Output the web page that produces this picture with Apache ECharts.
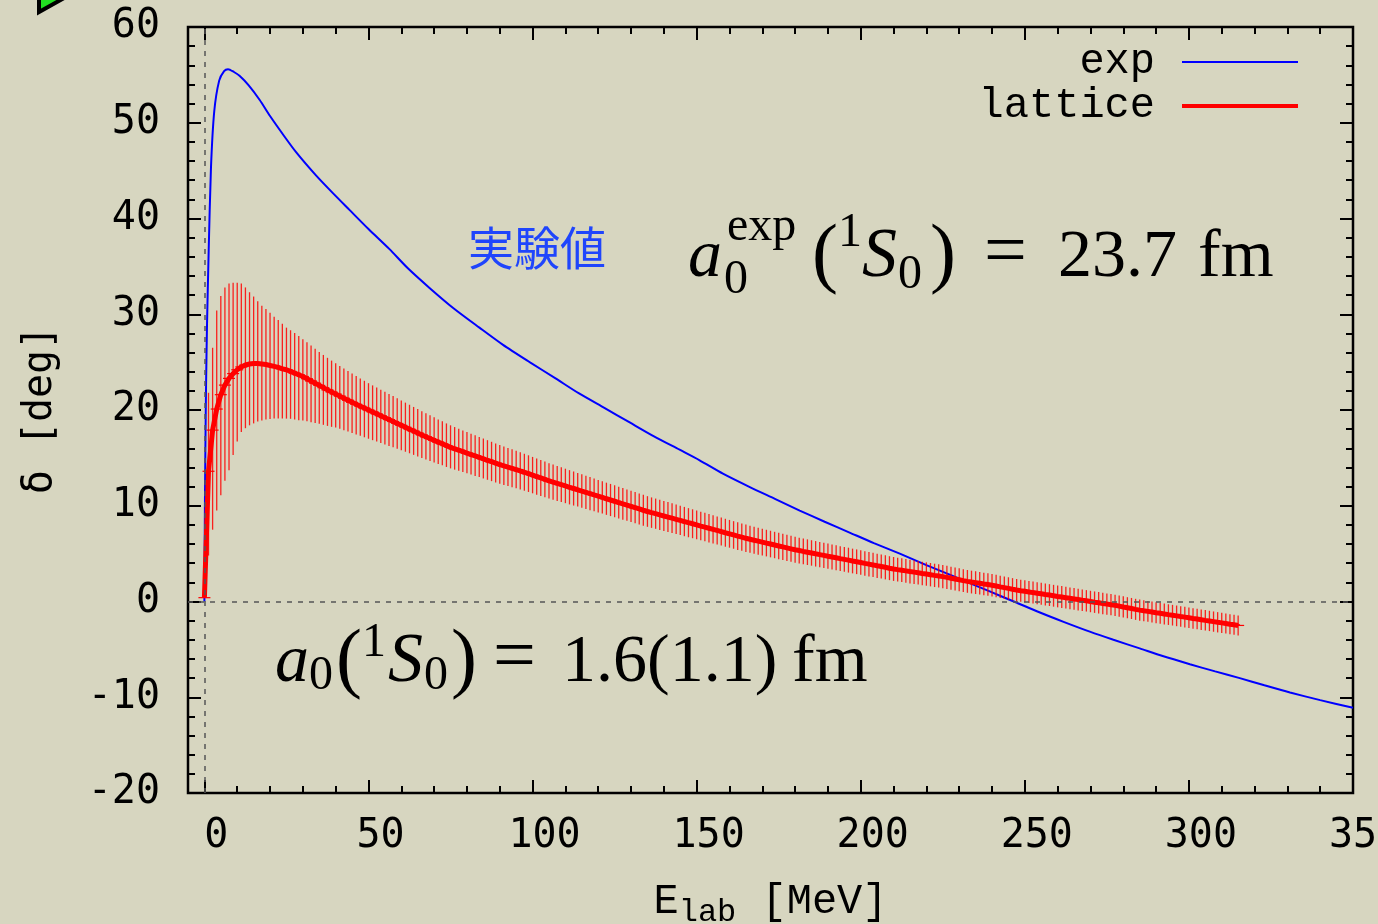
<!DOCTYPE html>
<html>
<head>
<meta charset="utf-8">
<title>1S0 phase shift</title>
<script src="https://cdn.jsdelivr.net/npm/echarts@6/dist/echarts.min.js"></script>
<style>
  html, body { margin: 0; padding: 0; background: #d7d6c0; }
  #chart { width: 1378px; height: 924px; }
</style>
</head>
<body>
<div id="chart"></div>
<script>
// 実験値 (exp) phase shift curve
const expE = [0, 0.15, 0.3, 0.5, 0.8, 1.3, 2, 3, 4.5, 6, 7.2, 9, 10.7, 13.5, 16.8, 20, 23.9, 28, 34, 39,
  44.2, 50, 56.4, 62, 68.6, 76, 83.8, 91, 99.1, 107, 114.3, 122, 129.6, 137, 144.8, 150.9, 158, 166.2, 174, 181.4,
  189, 196.6, 204, 211.9, 220, 227.1, 233, 239.3, 247, 254.6, 262, 269.8, 277, 285, 292, 300.3, 308, 315.5, 323, 330.8,
  340, 350]
const expDelta = [0, 10, 16, 22.5, 29, 36.6, 45.3, 51.2, 54.4, 55.4, 55.6, 55.3, 54.9, 53.9, 52.4, 50.7, 48.8, 46.9, 44.5, 42.7,
  40.9, 38.9, 36.8, 34.8, 32.75, 30.6, 28.6, 26.8, 25.0, 23.3, 21.7, 20.2, 18.7, 17.25, 15.85, 14.75, 13.35, 11.95, 10.7, 9.5,
  8.33, 7.2, 6.1, 5.0, 3.8, 2.8, 1.95, 1.05, -0.05, -1.15, -2.15, -3.15, -4.0, -4.9, -5.7, -6.55, -7.3, -8.0, -8.75, -9.5,
  -10.3, -11.1]

// lattice: energies, central values, upper / lower errors
const latticeE = [
  0, 1.25, 2.5, 3.75, 5, 6.25, 7.5, 8.75, 10, 11.25, 12.5, 13.75, 15, 16.25, 17.5, 18.75,
  20, 21.25, 22.5, 23.75, 25, 26.25, 27.5, 28.75, 30, 31.25, 32.5, 33.75, 35, 36.25, 37.5, 38.75,
  40, 41.25, 42.5, 43.75, 45, 46.25, 47.5, 48.75, 50, 51.25, 52.5, 53.75, 55, 56.25, 57.5, 58.75,
  60, 61.25, 62.5, 63.75, 65, 66.25, 67.5, 68.75, 70, 71.25, 72.5, 73.75, 75, 76.25, 77.5, 78.75,
  80, 81.25, 82.5, 83.75, 85, 86.25, 87.5, 88.75, 90, 91.25, 92.5, 93.75, 95, 96.25, 97.5, 98.75,
  100, 101.25, 102.5, 103.75, 105, 106.25, 107.5, 108.75, 110, 111.25, 112.5, 113.75, 115, 116.25, 117.5, 118.75,
  120, 121.25, 122.5, 123.75, 125, 126.25, 127.5, 128.75, 130, 131.25, 132.5, 133.75, 135, 136.25, 137.5, 138.75,
  140, 141.25, 142.5, 143.75, 145, 146.25, 147.5, 148.75, 150, 151.25, 152.5, 153.75, 155, 156.25, 157.5, 158.75,
  160, 161.25, 162.5, 163.75, 165, 166.25, 167.5, 168.75, 170, 171.25, 172.5, 173.75, 175, 176.25, 177.5, 178.75,
  180, 181.25, 182.5, 183.75, 185, 186.25, 187.5, 188.75, 190, 191.25, 192.5, 193.75, 195, 196.25, 197.5, 198.75,
  200, 201.25, 202.5, 203.75, 205, 206.25, 207.5, 208.75, 210, 211.25, 212.5, 213.75, 215, 216.25, 217.5, 218.75,
  220, 221.25, 222.5, 223.75, 225, 226.25, 227.5, 228.75, 230, 231.25, 232.5, 233.75, 235, 236.25, 237.5, 238.75,
  240, 241.25, 242.5, 243.75, 245, 246.25, 247.5, 248.75, 250, 251.25, 252.5, 253.75, 255, 256.25, 257.5, 258.75,
  260, 261.25, 262.5, 263.75, 265, 266.25, 267.5, 268.75, 270, 271.25, 272.5, 273.75, 275, 276.25, 277.5, 278.75,
  280, 281.25, 282.5, 283.75, 285, 286.25, 287.5, 288.75, 290, 291.25, 292.5, 293.75, 295, 296.25, 297.5, 298.75,
  300, 301.25, 302.5, 303.75, 305, 306.25, 307.5, 308.75, 310, 311.25, 312.5, 313.75, 315]
const latticeMid = [
  0.4, 13.6, 17.9, 20.1, 21.6, 22.6, 23.3, 23.8, 24.2, 24.5, 24.7, 24.8, 24.85, 24.85, 24.8, 24.75,
  24.65, 24.55, 24.45, 24.3, 24.2, 24.03, 23.85, 23.68, 23.5, 23.27, 23.03, 22.8, 22.57, 22.33, 22.1, 21.88,
  21.67, 21.45, 21.23, 21.02, 20.8, 20.6, 20.4, 20.2, 20.0, 19.8, 19.6, 19.4, 19.2, 19.0, 18.8, 18.6,
  18.4, 18.2, 18.0, 17.8, 17.6, 17.4, 17.2, 17.02, 16.83, 16.65, 16.47, 16.28, 16.1, 15.95, 15.8, 15.65,
  15.5, 15.35, 15.2, 15.05, 14.9, 14.75, 14.6, 14.45, 14.3, 14.17, 14.03, 13.9, 13.77, 13.63, 13.5, 13.35,
  13.2, 13.05, 12.9, 12.75, 12.6, 12.47, 12.33, 12.2, 12.07, 11.93, 11.8, 11.67, 11.53, 11.4, 11.27, 11.13,
  11.0, 10.87, 10.73, 10.6, 10.47, 10.33, 10.2, 10.07, 9.93, 9.8, 9.67, 9.53, 9.4, 9.28, 9.17, 9.05,
  8.93, 8.82, 8.7, 8.58, 8.47, 8.35, 8.23, 8.12, 8.0, 7.88, 7.77, 7.65, 7.53, 7.42, 7.3, 7.18,
  7.07, 6.95, 6.83, 6.72, 6.6, 6.5, 6.4, 6.3, 6.2, 6.1, 6.0, 5.9, 5.8, 5.7, 5.6, 5.5,
  5.4, 5.32, 5.23, 5.15, 5.07, 4.98, 4.9, 4.82, 4.73, 4.65, 4.57, 4.48, 4.4, 4.32, 4.23, 4.15,
  4.07, 3.98, 3.9, 3.82, 3.73, 3.65, 3.57, 3.48, 3.4, 3.33, 3.27, 3.2, 3.13, 3.07, 3.0, 2.93,
  2.87, 2.8, 2.73, 2.67, 2.6, 2.52, 2.43, 2.35, 2.27, 2.18, 2.1, 2.03, 1.97, 1.9, 1.83, 1.77,
  1.7, 1.62, 1.53, 1.45, 1.37, 1.28, 1.2, 1.13, 1.07, 1.0, 0.93, 0.87, 0.8, 0.73, 0.67, 0.6,
  0.53, 0.47, 0.4, 0.33, 0.27, 0.2, 0.13, 0.07, 0.0, -0.07, -0.13, -0.2, -0.27, -0.33, -0.4, -0.48,
  -0.57, -0.65, -0.73, -0.82, -0.9, -0.97, -1.03, -1.1, -1.17, -1.23, -1.3, -1.37, -1.43, -1.5, -1.57, -1.63,
  -1.7, -1.77, -1.83, -1.9, -1.97, -2.03, -2.1, -2.17, -2.23, -2.3, -2.37, -2.43, -2.5]
const latticeErrUp = [
  0, 8.2, 8.6, 10.3, 10.3, 10.2, 9.9, 9.5, 9.1, 8.7, 8.1, 7.5, 7.0, 6.5, 6.1, 5.8,
  5.5, 5.2, 4.95, 4.7, 4.4, 4.3, 4.2, 4.05, 3.9, 3.8, 3.7, 3.6, 3.5, 3.42, 3.35, 3.28,
  3.2, 3.15, 3.1, 3.05, 3.0, 2.95, 2.9, 2.85, 2.8, 2.77, 2.75, 2.72, 2.7, 2.67, 2.65, 2.62,
  2.6, 2.57, 2.55, 2.52, 2.5, 2.47, 2.45, 2.42, 2.4, 2.37, 2.35, 2.32, 2.3, 2.27, 2.25, 2.22,
  2.2, 2.18, 2.16, 2.14, 2.12, 2.1, 2.08, 2.06, 2.05, 2.03, 2.01, 1.99, 1.97, 1.95, 1.93, 1.92,
  1.9, 1.89, 1.88, 1.86, 1.85, 1.84, 1.83, 1.81, 1.8, 1.79, 1.78, 1.76, 1.75, 1.74, 1.73, 1.71,
  1.7, 1.69, 1.68, 1.68, 1.67, 1.66, 1.65, 1.64, 1.63, 1.63, 1.62, 1.61, 1.6, 1.59, 1.58, 1.58,
  1.57, 1.56, 1.55, 1.54, 1.53, 1.53, 1.52, 1.51, 1.5, 1.49, 1.49, 1.48, 1.48, 1.47, 1.46, 1.46,
  1.45, 1.44, 1.44, 1.43, 1.43, 1.42, 1.41, 1.41, 1.4, 1.39, 1.39, 1.38, 1.38, 1.37, 1.36, 1.36,
  1.35, 1.35, 1.34, 1.34, 1.33, 1.33, 1.32, 1.32, 1.32, 1.31, 1.31, 1.3, 1.3, 1.3, 1.29, 1.29,
  1.28, 1.28, 1.28, 1.27, 1.27, 1.26, 1.26, 1.25, 1.25, 1.25, 1.24, 1.24, 1.24, 1.23, 1.23, 1.23,
  1.22, 1.22, 1.22, 1.21, 1.21, 1.21, 1.2, 1.2, 1.2, 1.2, 1.19, 1.19, 1.19, 1.18, 1.18, 1.18,
  1.17, 1.17, 1.17, 1.16, 1.16, 1.16, 1.15, 1.15, 1.15, 1.15, 1.15, 1.15, 1.15, 1.14, 1.14, 1.14,
  1.14, 1.14, 1.13, 1.13, 1.13, 1.13, 1.13, 1.12, 1.12, 1.12, 1.12, 1.12, 1.11, 1.11, 1.11, 1.11,
  1.11, 1.1, 1.1, 1.1, 1.1, 1.1, 1.09, 1.09, 1.09, 1.09, 1.09, 1.08, 1.08, 1.08, 1.08, 1.08,
  1.07, 1.07, 1.07, 1.07, 1.07, 1.06, 1.06, 1.06, 1.06, 1.05, 1.05, 1.05, 1.05]
const latticeErrDown = [
  0, 8.8, 10.4, 10.6, 10.5, 10.0, 9.6, 8.5, 7.5, 6.8, 6.6, 6.4, 6.25, 6.05, 5.9, 5.75,
  5.6, 5.45, 5.35, 5.2, 5.1, 4.95, 4.85, 4.75, 4.6, 4.45, 4.3, 4.15, 4.0, 3.88, 3.76, 3.64,
  3.5, 3.42, 3.35, 3.27, 3.2, 3.15, 3.1, 3.05, 3.0, 2.95, 2.9, 2.85, 2.8, 2.75, 2.7, 2.65,
  2.6, 2.56, 2.52, 2.49, 2.45, 2.41, 2.38, 2.34, 2.3, 2.28, 2.25, 2.23, 2.2, 2.18, 2.15, 2.13,
  2.1, 2.09, 2.08, 2.06, 2.05, 2.04, 2.03, 2.01, 2.0, 1.99, 1.98, 1.96, 1.95, 1.94, 1.93, 1.91,
  1.9, 1.89, 1.88, 1.86, 1.85, 1.84, 1.83, 1.81, 1.8, 1.79, 1.78, 1.76, 1.75, 1.74, 1.73, 1.71,
  1.7, 1.69, 1.68, 1.68, 1.67, 1.66, 1.65, 1.64, 1.63, 1.63, 1.62, 1.61, 1.6, 1.59, 1.58, 1.58,
  1.57, 1.56, 1.55, 1.54, 1.53, 1.53, 1.52, 1.51, 1.5, 1.49, 1.49, 1.48, 1.48, 1.47, 1.46, 1.46,
  1.45, 1.44, 1.44, 1.43, 1.43, 1.42, 1.41, 1.41, 1.4, 1.39, 1.39, 1.38, 1.38, 1.37, 1.36, 1.36,
  1.35, 1.35, 1.34, 1.34, 1.33, 1.33, 1.32, 1.32, 1.32, 1.31, 1.31, 1.3, 1.3, 1.3, 1.29, 1.29,
  1.28, 1.28, 1.28, 1.27, 1.27, 1.26, 1.26, 1.25, 1.25, 1.25, 1.24, 1.24, 1.24, 1.23, 1.23, 1.23,
  1.22, 1.22, 1.22, 1.21, 1.21, 1.21, 1.2, 1.2, 1.2, 1.2, 1.19, 1.19, 1.19, 1.18, 1.18, 1.18,
  1.17, 1.17, 1.17, 1.16, 1.16, 1.16, 1.15, 1.15, 1.15, 1.15, 1.15, 1.15, 1.15, 1.14, 1.14, 1.14,
  1.14, 1.14, 1.13, 1.13, 1.13, 1.13, 1.13, 1.12, 1.12, 1.12, 1.12, 1.12, 1.11, 1.11, 1.11, 1.11,
  1.11, 1.1, 1.1, 1.1, 1.1, 1.1, 1.09, 1.09, 1.09, 1.09, 1.09, 1.08, 1.08, 1.08, 1.08, 1.08,
  1.07, 1.07, 1.07, 1.07, 1.07, 1.06, 1.06, 1.06, 1.06, 1.05, 1.05, 1.05, 1.05]

// axis ticks
const xMajorTicks = [0, 50, 100, 150, 200, 250, 300, 350]
const xMinorTicks = [0, 10, 20, 30, 40, 50, 60, 70, 80, 90, 100, 110, 120, 130, 140, 150, 160, 170,
  180, 190, 200, 210, 220, 230, 240, 250, 260, 270, 280, 290, 300, 310, 320, 330, 340, 350]

const tickFont = 'DejaVu Sans Mono'
const monoFont = 'Liberation Mono'
const mathFont = 'Liberation Serif'

const chart = echarts.init(document.getElementById('chart'))

// 数式の注記 [text, x, baseline, size, italic]
function mathPieces (pieces) {
  return pieces.map(([text, x, base, size, italic]) => ({
    type: 'text',
    x: x,
    y: base - size * 0.34,
    silent: true,
    style: {
      text: text,
      fontFamily: mathFont,
      fontSize: size,
      fontStyle: italic ? 'italic' : 'normal',
      fill: '#000',
      verticalAlign: 'middle'
    }
  }))
}

function xAxisOf (position, ticks, len, labels) {
  const axis = {
    type: 'value',
    position: position,
    min: -5,
    max: 350,
    axisLine: { show: false, onZero: false },
    splitLine: { show: false },
    axisTick: {
      show: true,
      inside: true,
      length: len,
      customValues: ticks,
      lineStyle: { color: '#000', width: 2 }
    },
    axisLabel: { show: false }
  }
  if (labels) {
    axis.axisLabel = {
      show: true,
      customValues: ticks,
      fontFamily: tickFont,
      fontSize: 40,
      color: '#000',
      margin: 24,
      padding: [0, 0, 0, 24]
    }
    axis.name = '{a|E}{b|lab}{a| [MeV]}'
    axis.nameLocation = 'middle'
    axis.nameGap = 88
    axis.nameTextStyle = {
      rich: {
        a: { fontFamily: monoFont, fontSize: 42, color: '#000', verticalAlign: 'top' },
        b: { fontFamily: monoFont, fontSize: 32, color: '#000', verticalAlign: 'top', padding: [16, 0, 0, 0] }
      }
    }
  }
  return axis
}

function yAxisOf (position, labels) {
  const axis = {
    type: 'value',
    position: position,
    min: -20,
    max: 60,
    interval: 10,
    axisLine: { show: false, onZero: false },
    splitLine: { show: false },
    axisTick: { show: true, inside: true, length: 13, lineStyle: { color: '#000', width: 2 } },
    minorTick: { show: true, splitNumber: 5, length: 7, lineStyle: { color: '#000', width: 2 } },
    axisLabel: { show: labels, fontFamily: tickFont, fontSize: 40, color: '#000', margin: 28 }
  }
  if (labels) {
    axis.name = 'δ [deg]'
    axis.nameLocation = 'middle'
    axis.nameGap = 127
    axis.nameTextStyle = { fontFamily: tickFont, fontSize: 40, color: '#000' }
  }
  return axis
}

const option = {
  backgroundColor: '#d7d6c0',
  animation: false,
  grid: {
    left: 188,
    right: 25,
    top: 27,
    bottom: 131,
    containLabel: false,
    outerBoundsMode: 'none',
    show: true,
    borderColor: '#000',
    borderWidth: 2.5,
    backgroundColor: 'transparent'
  },
  legend: {
    data: [
      { name: 'exp', lineStyle: { width: 2 } },
      { name: 'lattice', lineStyle: { width: 4 } }
    ],
    orient: 'vertical',
    right: 73,
    top: 35,
    align: 'right',
    itemWidth: 116,
    itemHeight: 14,
    itemGap: 0,
    selectedMode: false,
    itemStyle: { color: 'rgba(0,0,0,0)', opacity: 0, borderWidth: 0 },
    textStyle: {
      fontFamily: monoFont,
      fontSize: 42,
      color: '#000',
      lineHeight: 44,
      padding: [0, 22, 0, 0]
    }
  },
  xAxis: [
    xAxisOf('bottom', xMajorTicks, 13, true),
    xAxisOf('bottom', xMinorTicks, 7, false),
    xAxisOf('top', xMajorTicks, 13, false),
    xAxisOf('top', xMinorTicks, 7, false)
  ],
  yAxis: [
    yAxisOf('left', true),
    yAxisOf('right', false)
  ],
  series: [
    {
      name: 'exp',
      type: 'line',
      data: expE.map((e, i) => [e, expDelta[i]]),
      symbol: 'none',
      smooth: 0.25,
      lineStyle: { color: '#0000ff', width: 2 },
      itemStyle: { color: '#0000ff' },
      z: 2,
      markLine: {
        silent: true,
        symbol: ['none', 'none'],
        label: { show: false },
        lineStyle: { color: '#555', width: 1.5, type: [5, 6] },
        data: [{ xAxis: 0 }, { yAxis: 0 }]
      }
    },
    {
      name: 'lattice error',
      type: 'custom',
      data: latticeE.map((e, i) => [e, latticeMid[i] - latticeErrDown[i], latticeMid[i] + latticeErrUp[i], latticeMid[i]]),
      encode: { x: 0, y: [1, 2] },
      z: 3,
      renderItem: function (params, api) {
        const x = api.value(0)
        const top = api.coord([x, api.value(2)])
        const bottom = api.coord([x, api.value(1)])
        const mid = api.coord([x, api.value(3)])
        return {
          type: 'group',
          children: [
            {
              type: 'line',
              shape: { x1: top[0], y1: top[1], x2: bottom[0], y2: bottom[1] },
              style: { stroke: '#ff0000', lineWidth: 1.3, opacity: 0.85 }
            },
            {
              type: 'line',
              shape: { x1: mid[0] - 6, y1: mid[1], x2: mid[0] + 6, y2: mid[1] },
              style: { stroke: '#ff0000', lineWidth: 1.2 }
            }
          ]
        }
      }
    },
    {
      name: 'lattice',
      type: 'line',
      data: latticeE.map((e, i) => [e, latticeMid[i]]),
      symbol: 'none',
      lineStyle: { color: '#ff0000', width: 5 },
      itemStyle: { color: '#ff0000' },
      z: 4
    }
  ],
  graphic: [
    {
      type: 'polygon',
      silent: true,
      shape: { points: [[39, -60], [39, 12], [100, -22]] },
      style: { fill: '#22e022', stroke: '#000', lineWidth: 4 }
    },
    {
      type: 'text',
      x: 468,
      y: 248,
      silent: true,
      style: {
        text: '実験値',
        fontFamily: 'Noto Sans CJK JP',
        fontSize: 46,
        fill: '#1f45fc',
        verticalAlign: 'middle'
      }
    }
  ].concat(mathPieces([
    ['a', 688, 281, 68, true],
    ['0', 724, 297, 48, false],
    ['exp', 727, 244, 48, false],
    ['(', 812, 284, 78, false],
    ['1', 838, 250, 48, false],
    ['S', 862, 281, 70, true],
    ['0', 898, 292, 48, false],
    [')', 930, 284, 78, false],
    ['=', 984, 281, 76, false],
    ['23.7', 1058, 281, 68, false],
    ['fm', 1198, 281, 68, false]
  ])).concat(mathPieces([
    ['a', 275, 686, 68, true],
    ['0', 309, 693, 48, false],
    ['(', 336, 689, 78, false],
    ['1', 362, 660, 48, false],
    ['S', 388, 686, 70, true],
    ['0', 424, 693, 48, false],
    [')', 451, 689, 78, false],
    ['=', 493, 686, 76, false],
    ['1.6(1.1)', 562, 686, 68, false],
    ['fm', 792, 686, 68, false]
  ]))
}

chart.setOption(option)
</script>
</body>
</html>
